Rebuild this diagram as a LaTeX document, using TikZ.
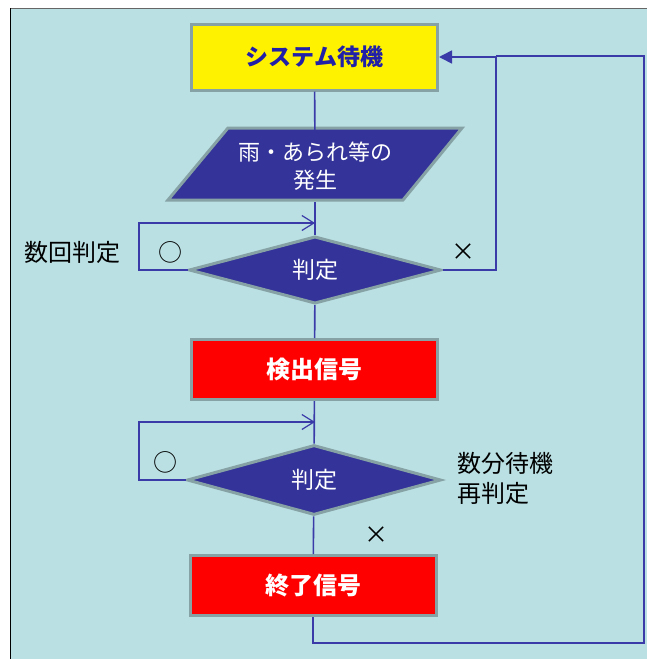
\documentclass[tikz,border=0pt]{standalone}
\usepackage{fontspec}
\newfontfamily\jp{Noto Sans CJK JP}[BoldFont={Noto Sans CJK JP Black}]
\usetikzlibrary{shapes.geometric,arrows.meta}
\definecolor{bg}{HTML}{BAE0E3}
\definecolor{edge}{HTML}{86A2A5}
\definecolor{navy}{HTML}{333399}
\definecolor{wire}{HTML}{3A3AA8}
\definecolor{titleblue}{HTML}{2020A8}
\begin{document}
\begin{tikzpicture}[x=1pt,y=-1pt,
  every node/.style={font=\jp},
  box/.style={rectangle,draw=edge,line width=3pt,minimum width=246pt,minimum height=60pt,inner sep=0pt},
  dia/.style={diamond,draw=edge,fill=navy,line width=3pt,inner sep=0pt,text=white,font=\jp\fontsize{23}{26}\selectfont},
  main/.style={draw=wire,line width=1.6pt},
  loop/.style={draw=wire,line width=1.2pt},
  lbl/.style={font=\jp\fontsize{24}{30}\selectfont,text=black,inner sep=0pt}
]
\useasboundingbox (0,0) rectangle (647,659);
% background panel
\fill[bg] (10,8) rectangle (647,659);
\draw[gray!80!black,line width=1pt] (10,8.5) -- (647,8.5);
\draw[black,line width=0.8pt] (10.4,8) -- (10.4,659);

% coordinates
\coordinate (r1) at (496,56);
\coordinate (b1) at (644,643);
\coordinate (l1a) at (139,223);
\coordinate (j1) at (315,223);
\coordinate (l2a) at (139,422);
\coordinate (j2) at (315,422);

% nodes
\node[box,fill=yellow,minimum height=66pt,text=titleblue,font=\jp\bfseries\fontsize{23}{26}\selectfont] (top) at (314.5,57) {システム待機};

\fill[navy] (228,128) -- (462,128) -- (403,200) -- (168,200) -- cycle;
\draw[edge,line width=3pt,line join=miter] (228,128) -- (462,128) -- (403,200) -- (168,200) -- cycle;
\node[minimum height=72pt,minimum width=100pt,inner sep=0pt,align=center,text=white,font=\jp\fontsize{22}{30}\selectfont] (para) at (315,166) {雨・あられ等の\\[-2pt]発生};

\node[dia,minimum width=252pt,minimum height=67pt] (d1) at (315,270) {判定};
\node[box,fill=red,text=white,font=\jp\bfseries\fontsize{24}{26}\selectfont] (det) at (314.5,369.5) {検出信号};
\node[dia,minimum width=254pt,minimum height=70pt] (d2) at (314,480) {判定};
\node[box,fill=red,text=white,font=\jp\bfseries\fontsize{24}{26}\selectfont] (end) at (313,585.5) {終了信号};

% labels
\node[lbl] (t1) at (72,252) {数回判定};
\node[lbl] (o1) at (170,252) {○};
\node[lbl] (x1) at (463,252) {×};
\node[lbl] (o2) at (165,462) {○};
\node[lbl,align=left,anchor=west] (t2) at (457,478) {数分待機\\再判定};
\node[lbl] (x2) at (376,535) {×};

% connectors
\draw[main] (top) -- (para);
\draw[main] (para.south) -- (d1.north);
\draw[main] (d1) -- (det);
\draw[main] (det) -- (d2);
\draw[main] (d2) -- (end);
\draw[loop,-{Straight Barb[length=12pt,width=15pt]}] (d1.west) -| (l1a) -- (j1);
\draw[loop,-{Straight Barb[length=12pt,width=15pt]}] (d2.west) -| (l2a) -- (j2);
\draw[main,-{Triangle[length=13pt,width=13pt]}] (d1.east) -- (d1.east -| r1) |- (top.east);
\draw[main] (end.south) |- (b1) |- (r1);
\end{tikzpicture}
\end{document}
